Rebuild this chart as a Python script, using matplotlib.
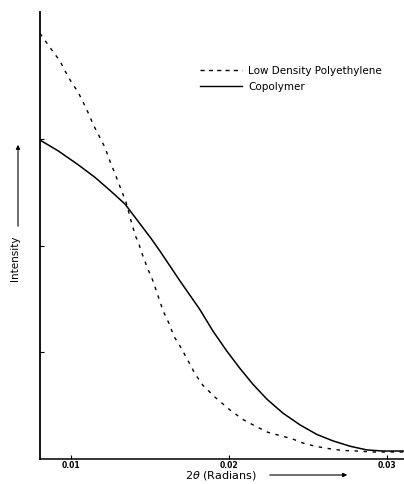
import matplotlib
matplotlib.use("Agg")
import matplotlib.pyplot as plt
from matplotlib.patches import FancyArrowPatch

# values
ldpe_x = [0.00803, 0.00885, 0.00930, 0.00961, 0.00999, 0.01044, 0.01075, 0.01107,
          0.01139, 0.01177, 0.01215, 0.01247, 0.01285, 0.01316, 0.01348, 0.01386,
          0.01411, 0.01424, 0.01456, 0.01487, 0.01519, 0.01551, 0.01583, 0.01621,
          0.01652, 0.01690, 0.01735, 0.01785, 0.01836, 0.01912, 0.02007, 0.02090,
          0.02166, 0.02248, 0.02324, 0.02400, 0.02470, 0.02546, 0.02622, 0.02723,
          0.02812, 0.02913, 0.03040, 0.03110]
ldpe_y = [3.99, 3.82, 3.73, 3.64, 3.54, 3.44, 3.35, 3.25,
          3.14, 3.03, 2.92, 2.79, 2.65, 2.53, 2.41, 2.20,
          2.08, 2.04, 1.90, 1.78, 1.67, 1.53, 1.39, 1.27,
          1.15, 1.06, 0.94, 0.80, 0.69, 0.58, 0.46, 0.37,
          0.31, 0.25, 0.22, 0.19, 0.15, 0.12, 0.10, 0.08,
          0.075, 0.066, 0.066, 0.066]

copo_x = [0.00803, 0.00917, 0.01044, 0.01152, 0.01253, 0.01342, 0.01424, 0.01506,
          0.01563, 0.01690, 0.01817, 0.01899, 0.01988, 0.02070, 0.02153, 0.02242,
          0.02343, 0.02451, 0.02558, 0.02660, 0.02768, 0.02875, 0.02977, 0.03110]
copo_y = [2.99, 2.89, 2.76, 2.64, 2.51, 2.39, 2.23, 2.07,
          1.95, 1.67, 1.40, 1.20, 1.01, 0.85, 0.70, 0.56,
          0.43, 0.32, 0.23, 0.17, 0.12, 0.085, 0.075, 0.075]

xticks = [0.01, 0.02, 0.03]
xtick_labels = ["0.01", "0.02", "0.03"]
yticks = [1, 2, 3]

fig = plt.figure(figsize=(4.04, 4.85), dpi=100)
ax = fig.add_axes([0.099, 0.0515, 0.901, 0.9215])

ax.plot(ldpe_x, ldpe_y, color="black", lw=1.0, ls=(0, (2.5, 4)))
ax.plot(copo_x, copo_y, color="black", lw=1.1)

ax.set_xlim(0.00803, 0.0311)
ax.set_ylim(0, 4.19)
for s in ["top", "right"]:
    ax.spines[s].set_visible(False)
ax.spines["left"].set_linewidth(1.3)
ax.spines["bottom"].set_linewidth(1.1)

ax.set_xticks(xticks)
ax.set_xticklabels(xtick_labels, fontsize=5.5, fontweight="bold")
ax.set_yticks(yticks)
ax.set_yticklabels([])
ax.tick_params(direction="in", length=3, width=0.8, pad=1)

# legend drawn by hand like the original
ax.plot([0.01817, 0.02083], [3.646, 3.646], color="black", lw=1.0,
        ls=(0, (3, 3)), clip_on=False)
ax.plot([0.01817, 0.02083], [3.496, 3.496], color="black", lw=1.0, clip_on=False)
ax.text(0.02121, 3.646, "Low Density Polyethylene", fontsize=7.5, va="center", ha="left")
ax.text(0.02121, 3.496, "Copolymer", fontsize=7.5, va="center", ha="left")

# axis labels with arrows
fig.text(185 / 404, 1 - 476 / 485, r"2$\theta$ (Radians)", fontsize=8, va="center", ha="left")
fig.add_artist(FancyArrowPatch(
    (267 / 404, 1 - 476 / 485), (350 / 404, 1 - 476 / 485), transform=fig.transFigure,
    arrowstyle="-|>", mutation_scale=6, lw=0.8, color="black"))
fig.text(15 / 404, 1 - 258 / 485, "Intensity", fontsize=7.5, rotation=90, va="center", ha="center")
fig.add_artist(FancyArrowPatch(
    (18 / 404, 1 - 230 / 485), (18 / 404, 1 - 143 / 485), transform=fig.transFigure,
    arrowstyle="-|>", mutation_scale=6, lw=0.8, color="black"))

fig.savefig("out.png", dpi=100)
